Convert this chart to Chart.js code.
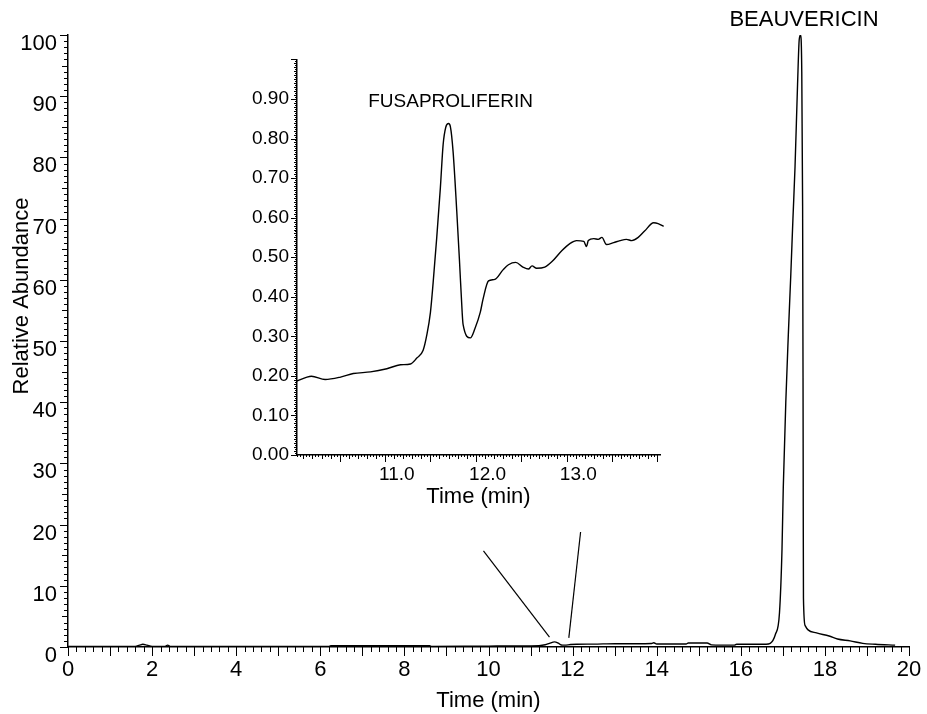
<!DOCTYPE html>
<html>
<head>
<meta charset="utf-8">
<title>Chromatogram - beauvericin / fusaproliferin</title>
<script src="https://cdn.jsdelivr.net/npm/chart.js@4.4.1/dist/chart.umd.min.js"></script>
<style>
  body { margin: 0; background: #fff; }
  #wrap { position: relative; width: 927px; height: 714px; }
  #mainChart { position: absolute; left: 0; top: 0; }
  #insetChart { position: absolute; left: 230px; top: 40px; }
</style>
</head>
<body>
<div id="wrap">
  <canvas id="mainChart" width="927" height="714"></canvas>
  <canvas id="insetChart" width="450" height="480"></canvas>
</div>
<script>
/* full run, 0-20 min */
const mainTime = [
  0, 1.6, 1.7, 1.78, 1.88, 2.0, 2.3, 2.37, 2.44, 6.2,
  6.25, 8.6, 8.65, 10.0, 11.2, 11.35, 11.45, 11.57, 11.66, 11.73,
  11.81, 11.95, 12.1, 12.5, 13.0, 13.5, 13.88, 13.93, 14.0, 14.7,
  14.75, 15.2, 15.3, 15.85, 15.9, 16.6, 16.7, 16.82, 16.92, 16.98,
  17.01, 17.07, 17.13, 17.19, 17.24, 17.29, 17.35, 17.39, 17.42, 17.45,
  17.47, 17.48, 17.485, 17.49, 17.53, 17.6, 17.8, 18.1, 18.3, 18.6,
  18.9, 19.2, 19.67
];
const mainAbundance = [
  0.1, 0.1, 0.3, 0.45, 0.3, 0.1, 0.1, 0.3, 0.1, 0.1,
  0.2, 0.2, 0.1, 0.15, 0.23, 0.36, 0.6, 0.84, 0.62, 0.33,
  0.3, 0.4, 0.45, 0.47, 0.54, 0.54, 0.58, 0.7, 0.5, 0.5,
  0.65, 0.65, 0.35, 0.3, 0.45, 0.45, 0.6, 2, 5.6, 16,
  26, 40, 51, 61, 70, 78.5, 92, 99.3, 100, 94,
  72, 44, 23, 8, 3.5, 2.8, 2.3, 1.8, 1.3, 1.0,
  0.6, 0.45, 0.3
];

/* zoomed window around fusaproliferin */
const insetTime = [
  9.90, 10.01, 10.06, 10.21, 10.38, 10.52, 10.71, 10.89, 11.04, 11.15,
  11.22, 11.29, 11.33, 11.37, 11.40, 11.44, 11.48, 11.51, 11.54, 11.57,
  11.59, 11.62, 11.66, 11.69, 11.72, 11.73, 11.81, 11.86, 11.92, 11.95,
  12.01, 12.08, 12.17, 12.23, 12.31, 12.39, 12.45, 12.49, 12.54, 12.63,
  12.71, 12.82, 12.91, 12.98, 13.06, 13.09, 13.11, 13.17, 13.22, 13.26,
  13.31, 13.39, 13.46, 13.53, 13.59, 13.66, 13.73, 13.83, 13.88, 13.94
];
const insetAbundance = [
  0.187, 0.197, 0.199, 0.191, 0.197, 0.206, 0.21, 0.218, 0.228, 0.23,
  0.245, 0.265, 0.303, 0.36, 0.435, 0.55, 0.676, 0.784, 0.829, 0.838,
  0.83, 0.767, 0.618, 0.493, 0.36, 0.33, 0.296, 0.319, 0.361, 0.394,
  0.44, 0.444, 0.468, 0.481, 0.487, 0.475, 0.47, 0.478, 0.472, 0.475,
  0.489, 0.517, 0.535, 0.542, 0.54, 0.527, 0.542, 0.547, 0.545, 0.55,
  0.532, 0.537, 0.542, 0.545, 0.542, 0.55, 0.566, 0.587, 0.585, 0.578
];
const insetTimeLabels = [11.0, 12.0, 13.0];

/* pointer lines from the inset down to the small peak */
const leaderLeftTime = [9.88, 11.45];
const leaderLeftAbundance = [15.7, 1.6];
const leaderRightTime = [12.19, 11.91];
const leaderRightAbundance = [18.8, 1.5];

const FONT = "'Liberation Sans', Arial, sans-serif";
Chart.defaults.font.family = FONT;
Chart.defaults.color = "#000";

function toPoints(xs, ys) {
  return xs.map((x, i) => ({ x: x, y: ys[i] }));
}

function peakIndex(values) {
  return values.indexOf(Math.max(...values));
}

/* ruler style tick marks (minor + major) */
function makeRulerPlugin(axes) {
  return {
    id: "rulerTicks",
    afterDraw(chart) {
      const ctx = chart.ctx;
      const area = chart.chartArea;
      ctx.save();
      ctx.strokeStyle = "#000";
      ctx.lineWidth = 1;
      axes.forEach(axis => {
        const scale = chart.scales[axis.id];
        const first = Math.ceil((scale.min - axis.origin) / axis.step - 1e-6);
        const last = Math.floor((scale.max - axis.origin) / axis.step + 1e-6);
        ctx.beginPath();
        for (let i = first; i <= last; i++) {
          const value = axis.origin + i * axis.step;
          const level = axis.levels.find(l => ((i % l.every) + l.every) % l.every === 0);
          const p = Math.round(scale.getPixelForValue(value)) + 0.5;
          if (scale.isHorizontal()) {
            ctx.moveTo(p, area.bottom);
            ctx.lineTo(p, area.bottom + level.len);
          } else {
            ctx.moveTo(area.left, p);
            ctx.lineTo(area.left - level.len, p);
          }
        }
        ctx.stroke();
      });
      ctx.restore();
    }
  };
}

const mainRuler = [
  { id: "x", origin: 0, step: 0.2, levels: [{ every: 5, len: 9 }, { every: 1, len: 5 }] },
  { id: "y", origin: 0, step: 1, levels: [{ every: 10, len: 8 }, { every: 5, len: 6 }, { every: 1, len: 4 }] }
];

const insetRuler = [
  { id: "x", origin: 10.37, step: 0.5 / 15, levels: [{ every: 15, len: 7 }, { every: 3, len: 4 }, { every: 1, len: 2 }] },
  { id: "y", origin: 0, step: 0.005, levels: [{ every: 20, len: 6 }, { every: 2, len: 3 }, { every: 1, len: 2 }] }
];

function drawText(ctx, text, size, x, y, rotate, baseline) {
  ctx.save();
  ctx.fillStyle = "#000";
  ctx.font = size + "px " + FONT;
  ctx.textAlign = "center";
  ctx.textBaseline = baseline || "middle";
  ctx.translate(x, y);
  if (rotate) ctx.rotate(rotate);
  ctx.fillText(text, 0, 0);
  ctx.restore();
}

const mainText = {
  id: "mainText",
  afterDraw(chart) {
    const area = chart.chartArea;
    const i = peakIndex(mainAbundance);
    drawText(chart.ctx, "Relative Abundance", 22,
      area.left - 40, (area.top + area.bottom) / 2 - 45, -Math.PI / 2, "alphabetic");
    drawText(chart.ctx, "BEAUVERICIN", 22,
      chart.scales.x.getPixelForValue(mainTime[i]) + 3.5,
      chart.scales.y.getPixelForValue(mainAbundance[i]) - 15);
  }
};

const insetText = {
  id: "insetText",
  afterDraw(chart) {
    const i = peakIndex(insetAbundance);
    drawText(chart.ctx, "FUSAPROLIFERIN", 19,
      chart.scales.x.getPixelForValue(insetTime[i]) + 2,
      chart.scales.y.getPixelForValue(insetAbundance[i]) - 22);
  }
};

const traceStyle = {
  borderColor: "#000",
  borderWidth: 1.4,
  pointRadius: 0,
  fill: false
};

/* main chart */
const mainChart = new Chart(document.querySelector("#mainChart"), {
  type: "line",
  data: {
    datasets: [
      { ...traceStyle, data: toPoints(mainTime, mainAbundance), cubicInterpolationMode: "monotone" },
      { ...traceStyle, borderWidth: 1.2, data: toPoints(leaderLeftTime, leaderLeftAbundance) },
      { ...traceStyle, borderWidth: 1.2, data: toPoints(leaderRightTime, leaderRightAbundance) }
    ]
  },
  options: {
    responsive: false,
    animation: false,
    devicePixelRatio: 1,
    layout: { padding: { top: 35, right: 18, left: 0, bottom: 0 } },
    plugins: {
      legend: { display: false },
      tooltip: { enabled: false }
    },
    scales: {
      x: {
        type: "linear",
        min: 0,
        max: 20,
        afterFit: scale => {
          scale.height = 67;
          scale.paddingLeft = 0;
          scale.paddingRight = 0;
        },
        grid: { display: false, drawTicks: false },
        border: { color: "#000", width: 1.5 },
        ticks: { stepSize: 2, padding: 10, maxRotation: 0, autoSkip: false, font: { size: 22 } },
        title: { display: true, text: "Time (min)", font: { size: 22 }, padding: { top: 0, bottom: 0 } }
      },
      y: {
        type: "linear",
        min: 0,
        max: 100,
        afterFit: scale => { scale.width = 68; },
        grid: { display: false, drawTicks: false },
        border: { color: "#000", width: 1.5 },
        ticks: { stepSize: 10, padding: 11, labelOffset: 9, font: { size: 22 } }
      }
    }
  },
  plugins: [makeRulerPlugin(mainRuler), mainText]
});

/* inset chart */
const insetChart = new Chart(document.querySelector("#insetChart"), {
  type: "line",
  data: {
    datasets: [
      { ...traceStyle, data: toPoints(insetTime, insetAbundance), cubicInterpolationMode: "monotone", clip: false }
    ]
  },
  options: {
    responsive: false,
    animation: false,
    devicePixelRatio: 1,
    layout: { padding: { top: 12, right: 20, left: 0, bottom: 0 } },
    plugins: {
      legend: { display: false },
      tooltip: { enabled: false }
    },
    scales: {
      x: {
        type: "linear",
        min: 9.90,
        max: 13.90,
        afterFit: scale => {
          scale.height = 65;
          scale.paddingLeft = 0;
          scale.paddingRight = 0;
        },
        afterBuildTicks: scale => {
          scale.ticks = insetTimeLabels.map(v => ({ value: v }));
        },
        grid: { display: false, drawTicks: false },
        border: { color: "#000", width: 1.5 },
        ticks: { padding: 8, maxRotation: 0, autoSkip: false, font: { size: 19 }, callback: v => v.toFixed(1) },
        title: { display: true, text: "Time (min)", font: { size: 22 }, padding: { top: 0, bottom: 10 } }
      },
      y: {
        type: "linear",
        min: 0,
        max: 1,
        afterFit: scale => { scale.width = 67; },
        grid: { display: false, drawTicks: false },
        border: { color: "#000", width: 1.5 },
        ticks: { stepSize: 0.1, padding: 8, font: { size: 19 }, callback: v => (v > 0.95 ? "" : v.toFixed(2)) }
      }
    }
  },
  plugins: [makeRulerPlugin(insetRuler), insetText]
});
</script>
</body>
</html>
